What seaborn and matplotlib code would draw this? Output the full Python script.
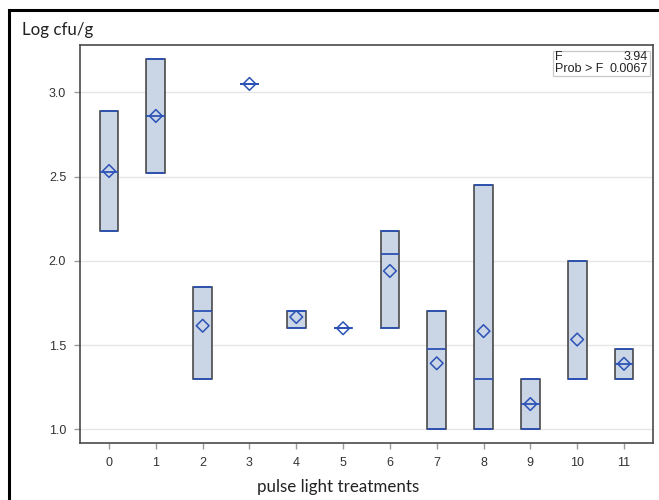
import matplotlib
matplotlib.use("Agg")
import matplotlib.pyplot as plt
import seaborn as sns
import pandas as pd
from matplotlib.patches import Rectangle

# Per-treatment summary of Log cfu/g (box spans min..max, line = median, diamond = mean)
treatments = ["0", "1", "2", "3", "4", "5", "6", "7", "8", "9", "10", "11"]
lows = [2.18, 2.52, 1.30, 3.05, 1.60, 1.60, 1.60, 1.00, 1.00, 1.00, 1.30, 1.30]
highs = [2.89, 3.20, 1.845, 3.05, 1.70, 1.60, 2.18, 1.70, 2.45, 1.30, 2.00, 1.477]
medians = [2.53, 2.86, 1.70, 3.05, 1.70, 1.60, 2.04, 1.477, 1.30, 1.15, 1.30, 1.39]
means = [2.533, 2.86, 1.615, 3.05, 1.667, 1.60, 1.94, 1.392, 1.583, 1.15, 1.533, 1.389]
f_value = "3.94"
p_value = "0.0067"

sns.set_theme(style="white")
plt.rcParams["font.family"] = ["Liberation Sans", "DejaVu Sans"]

fig = plt.figure(figsize=(6.59, 5.0), dpi=100)
ax = fig.add_axes([80 / 659, 1 - 443 / 500, (653 - 80) / 659, (443 - 45) / 500])

box_face = "#CAD5E6"
box_edge = "#3C3C3C"
blue = "#2B52B5"

stats = []
for lo, hi, med, mn in zip(lows, highs, medians, means):
    stats.append(dict(med=med, q1=lo, q3=hi, whislo=lo, whishi=hi, mean=mn))

ax.bxp(
    stats,
    positions=range(len(treatments)),
    widths=0.4,
    patch_artist=True,
    showmeans=False,
    showfliers=False,
    boxprops=dict(facecolor=box_face, edgecolor=box_edge, linewidth=1.1),
    medianprops=dict(color=blue, linewidth=1.3),
    whiskerprops=dict(color=blue, linewidth=0),
    capprops=dict(color=blue, linewidth=1.3),
    capwidths=0.36,
    zorder=3,
)

df = pd.DataFrame({"treatment": range(len(treatments)), "mean": means})
sns.scatterplot(
    data=df, x="treatment", y="mean", ax=ax, marker="D", s=42,
    facecolor="none", edgecolor=blue, linewidth=1.1, zorder=5, legend=False,
)

ax.set_xlim(-0.62, 11.62)
ax.set_ylim(0.919, 3.281)
ax.set_xticks(range(len(treatments)))
ax.set_xticklabels(treatments)
ax.set_yticks([1.0, 1.5, 2.0, 2.5, 3.0])
ax.set_yticklabels(["1.0", "1.5", "2.0", "2.5", "3.0"])
ax.yaxis.grid(True, color="#E6E6E6", linewidth=1.0, zorder=0)
ax.set_axisbelow(True)
ax.set_xlabel("")
ax.set_ylabel("")
ax.tick_params(axis="both", which="both", direction="out", length=4, width=1,
               color="#9A9A9A", labelsize=9, labelcolor="#333333", pad=6,
               bottom=True, left=True)
for sp in ax.spines.values():
    sp.set_color("#4A4A4A")
    sp.set_linewidth(1.2)
    sp.set_visible(True)

# F statistic inset
ax.add_patch(Rectangle((553 / 659, 1 - 76 / 500), 97 / 659, 25 / 500,
                       transform=fig.transFigure, fill=False,
                       edgecolor="#C8C8C8", linewidth=0.9, zorder=6))
fig.text(555 / 659, 1 - 57.5 / 500, "F", fontsize=9, color="#222222", va="center", ha="left")
fig.text(648 / 659, 1 - 57.5 / 500, f_value, fontsize=9, color="#222222", va="center", ha="right")
fig.text(555 / 659, 1 - 69.5 / 500, "Prob > F", fontsize=9, color="#222222", va="center", ha="left")
fig.text(648 / 659, 1 - 69.5 / 500, p_value, fontsize=9, color="#222222", va="center", ha="right")

# Axis titles
fig.text(22 / 659, 1 - 30 / 500, "Log cfu/g", fontsize=12.2, color="#222222",
         va="center", ha="left", family=["Lato", "DejaVu Sans"])
fig.text(338 / 659, 1 - 487 / 500, "pulse light treatments", fontsize=12.2, color="#222222",
         va="center", ha="center", family=["Lato", "DejaVu Sans"])

# Outer frame around the figure
fig.add_artist(Rectangle((9 / 659, -0.05), 1.1, 1 - 10 / 500 + 0.05,
                         transform=fig.transFigure, fill=False,
                         edgecolor="black", linewidth=2.2))

fig.savefig("out.png", dpi=100)
